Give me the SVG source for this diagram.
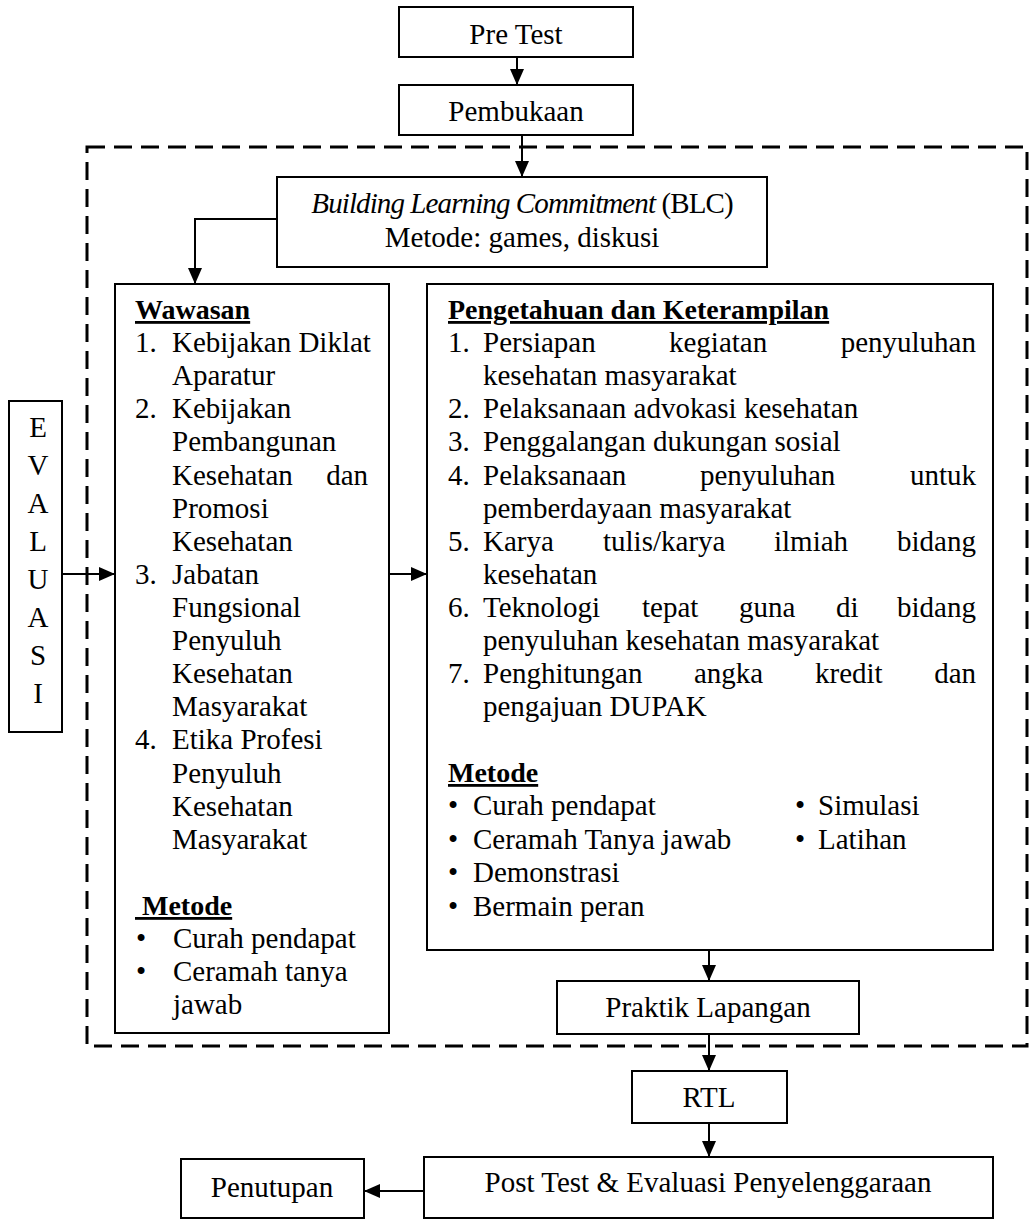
<svg xmlns="http://www.w3.org/2000/svg" width="1029" height="1219" viewBox="0 0 1029 1219">
<style>
text{font-family:"Liberation Serif","Times New Roman",serif;font-size:29px;fill:#000}
.b{font-weight:bold;font-size:28px;text-decoration:underline}
.m{text-anchor:middle}
.e{text-anchor:end}
.box{fill:#fff;stroke:#000;stroke-width:2}
.frame{fill:none;stroke:#000;stroke-width:3;stroke-dasharray:18 9}
.conn{fill:none;stroke:#000;stroke-width:2;marker-end:url(#ah)}
</style>
<defs>
<marker id="ah" markerWidth="16" markerHeight="14" refX="16" refY="7" orient="auto" markerUnits="userSpaceOnUse"><path d="M0,0 L16,7 L0,14 z" fill="#000"/></marker>
</defs>
<rect width="1029" height="1219" fill="#fff"/>
<g id="training-frame"><rect class="frame" x="87" y="147" width="940" height="899"/></g>

<g id="pre-test"><rect class="box" x="399" y="7" width="234" height="50"/><text class="m" x="516" y="44">Pre Test</text></g>
<g id="pembukaan"><rect class="box" x="399" y="85" width="234" height="50"/><text class="m" x="516" y="121">Pembukaan</text></g>
<g id="blc"><rect class="box" x="277" y="177" width="490" height="90"/>
<text class="m" x="522" y="213" style="letter-spacing:-0.9px"><tspan font-style="italic">Building Learning Commitment</tspan> (BLC)</text>
<text class="m" x="522" y="247">Metode: games, diskusi</text></g>

<g id="evaluasi"><rect class="box" x="9" y="401" width="53" height="331"/>
<text class="m" x="38" y="437">E</text><text class="m" x="38" y="475">V</text><text class="m" x="38" y="513">A</text><text class="m" x="38" y="551">L</text><text class="m" x="38" y="589">U</text><text class="m" x="38" y="627">A</text><text class="m" x="38" y="665">S</text><text class="m" x="38" y="703">I</text></g>

<g id="wawasan"><rect class="box" x="115" y="284" width="274" height="749"/>
<text class="b" x="135" y="319">Wawasan</text>
<text x="135" y="352">1.</text><text x="172" y="352">Kebijakan Diklat</text>
<text x="172" y="385">Aparatur</text>
<text x="135" y="418">2.</text><text x="172" y="418">Kebijakan</text>
<text x="172" y="451">Pembangunan</text>
<text x="172" y="485">Kesehatan</text><text class="e" x="368" y="485">dan</text>
<text x="172" y="518">Promosi</text>
<text x="172" y="551">Kesehatan</text>
<text x="135" y="584">3.</text><text x="172" y="584">Jabatan</text>
<text x="172" y="617">Fungsional</text>
<text x="172" y="650">Penyuluh</text>
<text x="172" y="683">Kesehatan</text>
<text x="172" y="716">Masyarakat</text>
<text x="135" y="749">4.</text><text x="172" y="749">Etika Profesi</text>
<text x="172" y="783">Penyuluh</text>
<text x="172" y="816">Kesehatan</text>
<text x="172" y="849">Masyarakat</text>
<text class="b" x="135" y="915" style="white-space:pre"> Metode</text>
<text class="m" x="141" y="948">•</text><text x="173" y="948">Curah pendapat</text>
<text class="m" x="141" y="981">•</text><text x="173" y="981">Ceramah tanya</text>
<text x="173" y="1014">jawab</text></g>

<g id="pengetahuan"><rect class="box" x="427" y="284" width="566" height="666"/>
<text class="b" x="448" y="319">Pengetahuan dan Keterampilan</text>
<text x="448" y="352">1.</text><text x="483" y="352">Persiapan</text><text x="669" y="352">kegiatan</text><text class="e" x="976" y="352">penyuluhan</text>
<text x="483" y="385">kesehatan masyarakat</text>
<text x="448" y="418">2.</text><text x="483" y="418">Pelaksanaan advokasi kesehatan</text>
<text x="448" y="451">3.</text><text x="483" y="451">Penggalangan dukungan sosial</text>
<text x="448" y="485">4.</text><text x="483" y="485">Pelaksanaan</text><text x="700" y="485">penyuluhan</text><text class="e" x="976" y="485">untuk</text>
<text x="483" y="518">pemberdayaan masyarakat</text>
<text x="448" y="551">5.</text><text x="483" y="551">Karya</text><text x="603" y="551">tulis/karya</text><text x="774" y="551">ilmiah</text><text class="e" x="976" y="551">bidang</text>
<text x="483" y="584">kesehatan</text>
<text x="448" y="617">6.</text><text x="483" y="617">Teknologi</text><text x="642" y="617">tepat</text><text x="739" y="617">guna</text><text x="836" y="617">di</text><text class="e" x="976" y="617">bidang</text>
<text x="483" y="650">penyuluhan kesehatan masyarakat</text>
<text x="448" y="683">7.</text><text x="483" y="683">Penghitungan</text><text x="694" y="683">angka</text><text x="815" y="683">kredit</text><text class="e" x="976" y="683">dan</text>
<text x="483" y="716">pengajuan DUPAK</text>
<text class="b" x="448" y="782">Metode</text>
<text class="m" x="453" y="815">•</text><text x="473" y="815">Curah pendapat</text>
<text class="m" x="800" y="815">•</text><text x="818" y="815">Simulasi</text>
<text class="m" x="453" y="849">•</text><text x="473" y="849">Ceramah Tanya jawab</text>
<text class="m" x="800" y="849">•</text><text x="818" y="849">Latihan</text>
<text class="m" x="453" y="882">•</text><text x="473" y="882">Demonstrasi</text>
<text class="m" x="453" y="916">•</text><text x="473" y="916">Bermain peran</text></g>

<g id="praktik-lapangan"><rect class="box" x="557" y="981" width="302" height="53"/><text class="m" x="708" y="1017">Praktik Lapangan</text></g>
<g id="rtl"><rect class="box" x="632" y="1071" width="155" height="52"/><text class="m" x="709" y="1107">RTL</text></g>
<g id="post-test"><rect class="box" x="424" y="1157" width="569" height="61"/><text class="m" x="708" y="1192">Post Test &amp; Evaluasi Penyelenggaraan</text></g>
<g id="penutupan"><rect class="box" x="181" y="1159" width="183" height="59"/><text class="m" x="272" y="1197">Penutupan</text></g>

<g id="connectors">
<path class="conn" d="M517,57 V85"/>
<path class="conn" d="M522,135 V177"/>
<path class="conn" d="M277,219 H195 V284"/>
<path class="conn" d="M62,574 H115"/>
<path class="conn" d="M389,574 H427"/>
<path class="conn" d="M709,950 V981"/>
<path class="conn" d="M709,1034 V1071"/>
<path class="conn" d="M709,1123 V1157"/>
<path class="conn" d="M424,1191 H364"/>
</g>
</svg>
